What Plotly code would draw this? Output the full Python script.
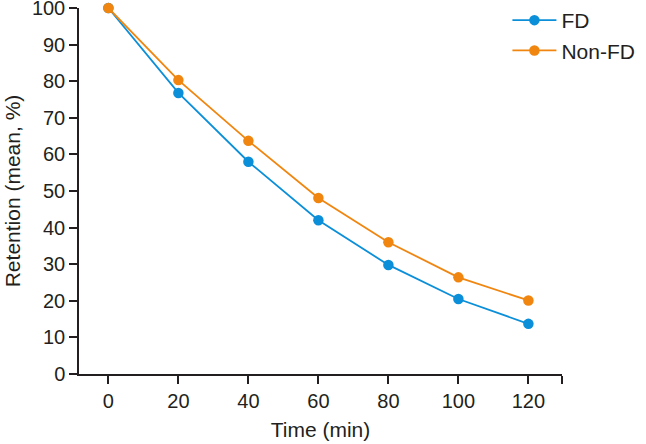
import plotly.graph_objects as go

time_min = [0, 20, 40, 60, 80, 100, 120]
fd = [100, 76.8, 58.0, 42.0, 29.8, 20.5, 13.7]
non_fd = [100, 80.3, 63.7, 48.1, 36.0, 26.4, 20.1]
x_ticks = [0, 20, 40, 60, 80, 100, 120]
y_ticks = [0, 10, 20, 30, 40, 50, 60, 70, 80, 90, 100]

BLUE = "#0b8fd9"
ORANGE = "#f0860f"
INK = "#231f20"
FONT = "Liberation Sans"

fig = go.Figure()
fig.add_trace(go.Scatter(x=time_min, y=fd, name="FD", mode="lines+markers",
                         line=dict(color=BLUE, width=1.8),
                         marker=dict(color=BLUE, size=10.5), cliponaxis=False))
fig.add_trace(go.Scatter(x=time_min, y=non_fd, name="Non-FD", mode="lines+markers",
                         line=dict(color=ORANGE, width=1.8),
                         marker=dict(color=ORANGE, size=10.5), cliponaxis=False))

x_end = 129.6
fig.update_layout(
    width=646, height=444,
    margin=dict(l=79, r=84, t=0, b=70),
    paper_bgcolor="white", plot_bgcolor="white",
    font=dict(family=FONT, size=20, color=INK),
    showlegend=True,
    legend=dict(x=0.887, y=1.0, xanchor="left", yanchor="top",
                bgcolor="rgba(0,0,0,0)", font=dict(size=21, color=INK),
                tracegroupgap=0, itemwidth=44),
    xaxis=dict(range=[-8.4, x_end], tickvals=x_ticks + [x_end],
               ticktext=[str(v) for v in x_ticks] + [""],
               showline=True, linecolor=INK, linewidth=1.5,
               ticks="outside", ticklen=8, tickcolor=INK, tickwidth=1.5,
               showgrid=False, zeroline=False, automargin=False,
               ticklabeloverflow="allow",
               title=dict(text="Time (min)", standoff=12, font=dict(size=21))),
    yaxis=dict(range=[0, 100], tickvals=y_ticks, domain=[0, 0.9786],
               showline=True, linecolor=INK, linewidth=1.5,
               ticks="outside", ticklen=8, tickcolor=INK, tickwidth=1.5,
               showgrid=False, zeroline=False, automargin=False,
               ticklabeloverflow="allow",
               title=dict(text="Retention (mean, %)", standoff=6, font=dict(size=21))),
)

fig.write_html("out.html", config={"displayModeBar": False},
               post_script="document.body.style.margin='0';document.body.style.padding='0';")
